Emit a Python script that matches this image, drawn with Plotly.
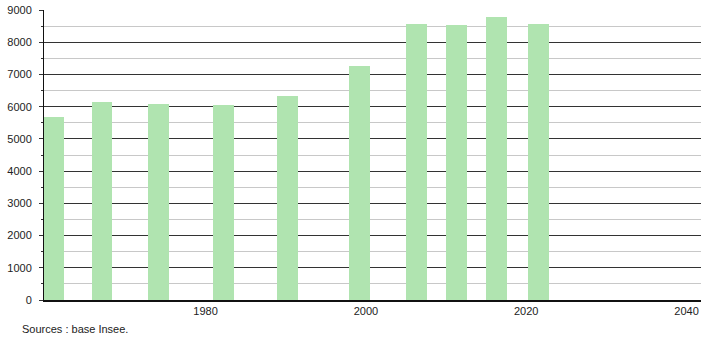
import plotly.graph_objects as go

# Census bars (positions, in years)
years = [1961.1, 1967.1, 1974.1, 1982.25, 1990.25, 1999.2, 2006.3, 2011.3, 2016.3, 2021.5]
population = [5690, 6150, 6090, 6050, 6335, 7270, 8575, 8545, 8790, 8575]

x_ticks = [1980, 2000, 2020, 2040]
y_ticks = [0, 1000, 2000, 3000, 4000, 5000, 6000, 7000, 8000, 9000]

fig = go.Figure()
fig.add_trace(go.Bar(
    x=years, y=population, width=2.56,
    marker=dict(color="rgb(176,228,176)", line=dict(width=0)),
    hoverinfo="x+y",
))

font = dict(family="Liberation Sans, Arial, sans-serif", size=11, color="#222")

fig.update_layout(
    width=710, height=340,
    margin=dict(l=44, r=9, t=10, b=40),
    paper_bgcolor="white", plot_bgcolor="white",
    showlegend=False,
    font=font,
    xaxis=dict(
        range=[1959.85, 2041.8], automargin=False,
        tickvals=x_ticks, ticktext=[str(v) for v in x_ticks],
        showgrid=False, zeroline=False,
        showline=True, linecolor="#111", linewidth=1.5,
        ticks="", tickfont=font,
    ),
    yaxis=dict(
        range=[0, 9000], automargin=False,
        tickvals=y_ticks, ticktext=[str(v) for v in y_ticks],
        showgrid=True, gridcolor="#333", gridwidth=1,
        zeroline=False,
        showline=True, linecolor="#111", linewidth=1,
        ticks="outside", ticklen=4, tickcolor="#333",
        ticklabelstandoff=5,
        tickfont=font,
        minor=dict(dtick=500, tick0=500, showgrid=True, gridcolor="#c8c8c8",
                   gridwidth=1, ticks="outside", ticklen=2, tickcolor="#333"),
    ),
    bargap=0,
)

fig.add_annotation(
    text="Sources : base Insee.", xref="paper", yref="paper",
    x=-24/657, y=-29/290, xanchor="left", yanchor="middle",
    showarrow=False, font=dict(family="Liberation Sans, Arial, sans-serif", size=11, color="#222"),
)

fig.write_html("out.html")
